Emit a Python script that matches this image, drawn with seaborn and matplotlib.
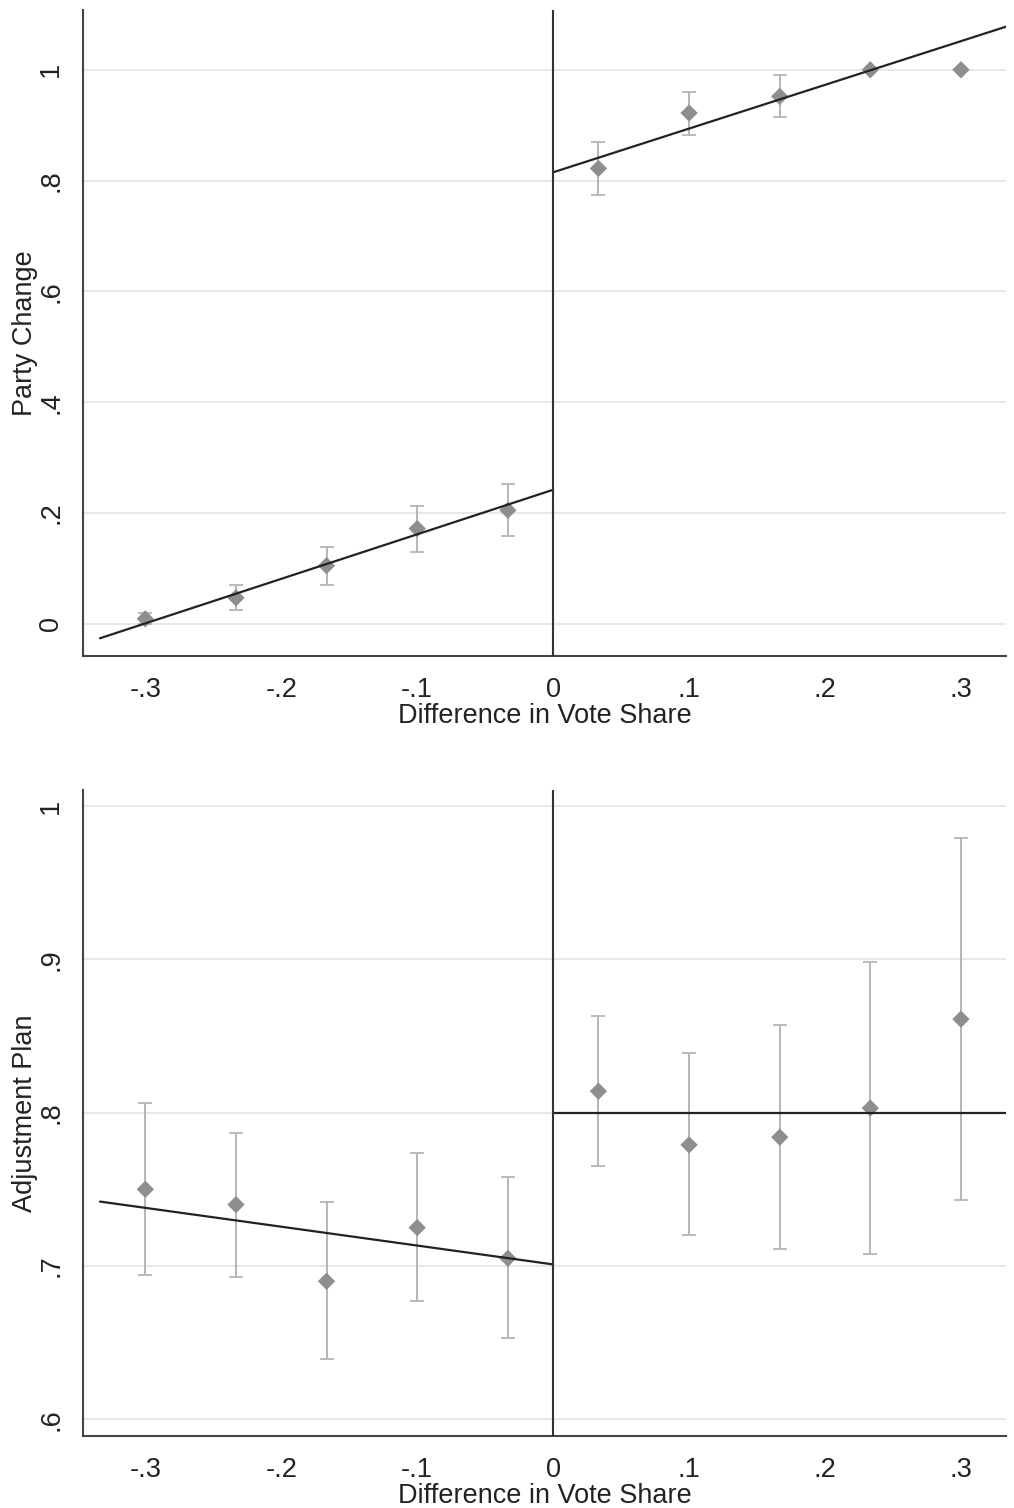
import matplotlib
matplotlib.use('Agg')  # backend sem display
import numpy as np
import pandas as pd
import matplotlib.pyplot as plt
import seaborn as sns

# bins (centros) de cada lado do corte
bins_left = [-0.3, -0.2333, -0.1667, -0.1, -0.0333]
bins_right = [0.0333, 0.1, 0.1667, 0.2333, 0.3]
fit_x_left = [-1 / 3, 0.0]
fit_x_right = [0.0, 1 / 3]

# Party Change
party_left = [0.009, 0.047, 0.105, 0.172, 0.205]
party_left_lo = [0.0, 0.025, 0.07, 0.13, 0.159]
party_left_hi = [0.02, 0.07, 0.139, 0.212, 0.253]
party_right = [0.822, 0.922, 0.952, 1.0, 1.0]
party_right_lo = [0.774, 0.883, 0.915, np.nan, np.nan]
party_right_hi = [0.869, 0.960, 0.990, np.nan, np.nan]
party_fit_left = [-0.026, 0.242]
party_fit_right = [0.815, 1.078]

# Adjustment Plan
plan_left = [0.750, 0.740, 0.690, 0.725, 0.705]
plan_left_lo = [0.694, 0.693, 0.639, 0.677, 0.653]
plan_left_hi = [0.806, 0.787, 0.742, 0.774, 0.758]
plan_right = [0.814, 0.779, 0.784, 0.803, 0.861]
plan_right_lo = [0.765, 0.720, 0.711, 0.708, 0.743]
plan_right_hi = [0.863, 0.839, 0.857, 0.898, 0.979]
plan_fit_left = [0.742, 0.701]
plan_fit_right = [0.800, 0.800]

x_ticks = [-0.3, -0.2, -0.1, 0.0, 0.1, 0.2, 0.3]
x_ticklabels = ['-.3', '-.2', '-.1', '0', '.1', '.2', '.3']
party_ticks = [0.0, 0.2, 0.4, 0.6, 0.8, 1.0]
party_ticklabels = ['0', '.2', '.4', '.6', '.8', '1']
plan_ticks = [0.6, 0.7, 0.8, 0.9, 1.0]
plan_ticklabels = ['.6', '.7', '.8', '.9', '1']

sns.set_style('white')
plt.rcParams['font.family'] = ['Liberation Sans', 'DejaVu Sans']

FS = 19.5
AXC = '#444444'


def painel(ax, ys, los, his, fits, ylabel, yticks, yticklabels, ylim):
    df = pd.DataFrame({
        'x': bins_left + bins_right,
        'y': ys[0] + ys[1],
        'lo': los[0] + los[1],
        'hi': his[0] + his[1],
    })
    # intervalos de confiança
    ok = df.dropna()
    ax.errorbar(ok['x'], ok['y'], yerr=[ok['y'] - ok['lo'], ok['hi'] - ok['y']],
                fmt='none', ecolor='#b5b5b5', elinewidth=1.4, capsize=5,
                capthick=1.3, zorder=2)
    sns.scatterplot(data=df, x='x', y='y', marker='D', s=78, color='#8e8e8e',
                    edgecolor='none', ax=ax, zorder=3)
    # ajustes lineares
    for fx, fy in [(fit_x_left, fits[0]), (fit_x_right, fits[1])]:
        sns.lineplot(x=fx, y=fy, color='#222222', lw=1.6, ax=ax, zorder=4)
    ax.axvline(0, color='#333333', lw=1.5, zorder=4)

    ax.set_xlim(-0.3455, 0.3334)
    ax.set_ylim(*ylim)
    ax.set_xticks(x_ticks)
    ax.set_xticklabels(x_ticklabels)
    ax.set_yticks(yticks)
    ax.set_yticklabels(yticklabels, rotation=90, va='center')
    ax.yaxis.grid(True, color='#e8e8e8', lw=1.5)
    ax.xaxis.grid(False)
    ax.set_axisbelow(True)
    ax.tick_params(axis='both', length=8, width=1.3, color=AXC,
                   labelsize=FS, labelcolor='#222222', direction='out')
    ax.tick_params(axis='x', pad=7)
    ax.tick_params(axis='y', pad=6)
    sns.despine(ax=ax)
    for s in ['left', 'bottom']:
        ax.spines[s].set_color(AXC)
        ax.spines[s].set_linewidth(1.5)
    ax.set_xlabel('Difference in Vote Share', fontsize=FS, color='#222222', labelpad=0)
    ax.set_ylabel(ylabel, fontsize=FS, color='#222222', labelpad=0)


fig = plt.figure(figsize=(10.14, 15.08), dpi=100)
ax1 = fig.add_axes([0.0823, 0.565, 0.9102, 0.4284])
ax2 = fig.add_axes([0.0823, 0.0477, 0.9102, 0.4284])

painel(ax1, (party_left, party_right), (party_left_lo, party_right_lo),
       (party_left_hi, party_right_hi), (party_fit_left, party_fit_right),
       'Party Change', party_ticks, party_ticklabels, (-0.058, 1.108))
painel(ax2, (plan_left, plan_right), (plan_left_lo, plan_right_lo),
       (plan_left_hi, plan_right_hi), (plan_fit_left, plan_fit_right),
       'Adjustment Plan', plan_ticks, plan_ticklabels, (0.589, 1.0105))

fig.savefig('out.png', dpi=100)
plt.close(fig)
